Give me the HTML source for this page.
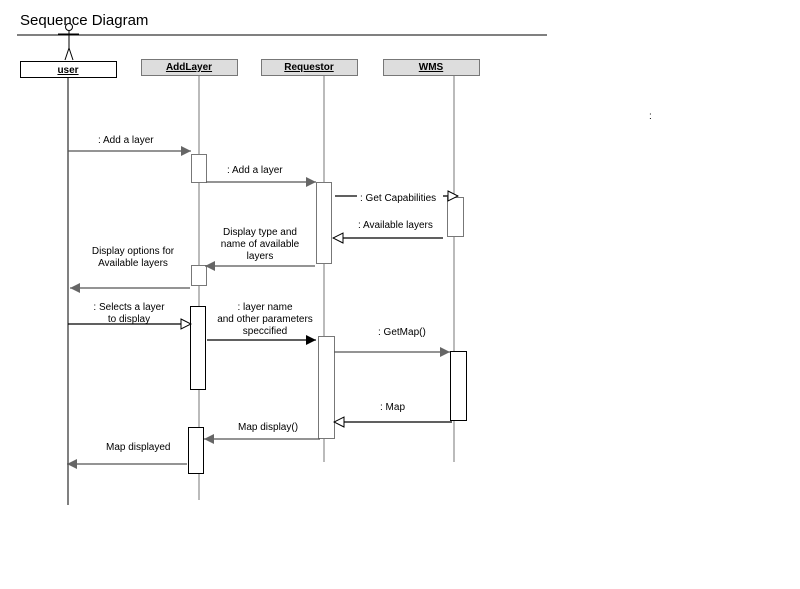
<!DOCTYPE html>
<html><head><style>html,body{margin:0;padding:0;background:#fff;width:800px;height:589px;overflow:hidden}</style></head>
<body>
<svg width="800" height="589" xmlns="http://www.w3.org/2000/svg" font-family="Liberation Sans, sans-serif" font-size="10">
<defs>
<marker id="g" markerWidth="10" markerHeight="10" refX="10" refY="5" orient="auto" markerUnits="userSpaceOnUse"><path d="M0,0 L10,5 L0,10 Z" fill="#666"/></marker>
<marker id="b" markerWidth="10" markerHeight="10" refX="10" refY="5" orient="auto" markerUnits="userSpaceOnUse"><path d="M0,0 L10,5 L0,10 Z" fill="#000"/></marker>
<marker id="o" markerWidth="12" markerHeight="12" refX="11" refY="6" orient="auto" markerUnits="userSpaceOnUse"><path d="M1,1 L11,6 L1,11 Z" fill="#fff" stroke="#000" stroke-width="1"/></marker>
</defs>
<text x="20" y="25" font-size="15">Sequence Diagram</text>
<line x1="17" y1="35" x2="547" y2="35" stroke="#000"/>
<!-- actor -->
<circle cx="69" cy="27" r="3.5" fill="#fff" stroke="#000"/>
<line x1="69" y1="31" x2="69" y2="48" stroke="#000"/>
<line x1="58" y1="34" x2="79" y2="34" stroke="#000"/>
<line x1="69" y1="48" x2="65" y2="60" stroke="#000"/>
<line x1="69" y1="48" x2="73" y2="60" stroke="#000"/>
<!-- lifelines -->
<line x1="68" y1="77" x2="68" y2="505" stroke="#000"/>
<line x1="199" y1="75" x2="199" y2="500" stroke="#777"/>
<line x1="324" y1="75" x2="324" y2="462" stroke="#777"/>
<line x1="454" y1="75" x2="454" y2="462" stroke="#777"/>
<!-- headers -->
<rect x="20.5" y="61.5" width="96" height="16" fill="#fff" stroke="#000"/>
<text x="68" y="73" text-anchor="middle" font-weight="bold" text-decoration="underline">user</text>
<rect x="141.5" y="59.5" width="96" height="16" fill="#ddd" stroke="#777"/>
<text x="189" y="70" text-anchor="middle" font-weight="bold" text-decoration="underline">AddLayer</text>
<rect x="261.5" y="59.5" width="96" height="16" fill="#ddd" stroke="#777"/>
<text x="309" y="70" text-anchor="middle" font-weight="bold" text-decoration="underline">Requestor</text>
<rect x="383.5" y="59.5" width="96" height="16" fill="#ddd" stroke="#777"/>
<text x="431" y="70" text-anchor="middle" font-weight="bold" text-decoration="underline">WMS</text>
<!-- activations -->
<rect x="191.5" y="154.5" width="15" height="28" fill="#fff" stroke="#777"/>
<rect x="316.5" y="182.5" width="15" height="81" fill="#fff" stroke="#777"/>
<rect x="447.5" y="197.5" width="16" height="39" fill="#fff" stroke="#777"/>
<rect x="191.5" y="265.5" width="15" height="20" fill="#fff" stroke="#777"/>
<rect x="190.5" y="306.5" width="15" height="83" fill="#fff" stroke="#000"/>
<rect x="318.5" y="336.5" width="16" height="102" fill="#fff" stroke="#777"/>
<rect x="450.5" y="351.5" width="16" height="69" fill="#fff" stroke="#000"/>
<rect x="188.5" y="427.5" width="15" height="46" fill="#fff" stroke="#000"/>
<!-- messages -->
<g stroke-width="1.3">
<line x1="68" y1="151" x2="191" y2="151" stroke="#555" marker-end="url(#g)"/>
<line x1="206" y1="182" x2="316" y2="182" stroke="#555" marker-end="url(#g)"/>
<line x1="335" y1="196" x2="357" y2="196" stroke="#000"/>
<line x1="443" y1="196" x2="458" y2="196" stroke="#000" marker-end="url(#o)"/>
<line x1="443" y1="238" x2="333" y2="238" stroke="#000" marker-end="url(#o)"/>
<line x1="315" y1="266" x2="205" y2="266" stroke="#555" marker-end="url(#g)"/>
<line x1="190" y1="288" x2="70" y2="288" stroke="#555" marker-end="url(#g)"/>
<line x1="68" y1="324" x2="191" y2="324" stroke="#000" marker-end="url(#o)"/>
<line x1="207" y1="340" x2="316" y2="340" stroke="#000" marker-end="url(#b)"/>
<line x1="334" y1="352" x2="450" y2="352" stroke="#555" marker-end="url(#g)"/>
<line x1="452" y1="422" x2="334" y2="422" stroke="#000" marker-end="url(#o)"/>
<line x1="320" y1="439" x2="204" y2="439" stroke="#555" marker-end="url(#g)"/>
<line x1="187" y1="464" x2="67" y2="464" stroke="#555" marker-end="url(#g)"/>
</g>
<g fill="#000">
<text x="98" y="143">: Add a layer</text>
<text x="227" y="173">: Add a layer</text>
<text x="360" y="201">: Get Capabilities</text>
<text x="358" y="228">: Available layers</text>
<text x="260" y="235" text-anchor="middle">Display type and</text>
<text x="260" y="247" text-anchor="middle">name of available</text>
<text x="260" y="259" text-anchor="middle">layers</text>
<text x="133" y="254" text-anchor="middle">Display options for</text>
<text x="133" y="266" text-anchor="middle">Available layers</text>
<text x="129" y="310" text-anchor="middle">: Selects a layer</text>
<text x="129" y="322" text-anchor="middle">to display</text>
<text x="265" y="310" text-anchor="middle">: layer name</text>
<text x="265" y="322" text-anchor="middle">and other parameters</text>
<text x="265" y="334" text-anchor="middle">speccified</text>
<text x="378" y="335">: GetMap()</text>
<text x="380" y="410">: Map</text>
<text x="238" y="430">Map display()</text>
<text x="106" y="450">Map displayed</text>
<text x="649" y="119">:</text>
</g>
</svg>
</body></html>
